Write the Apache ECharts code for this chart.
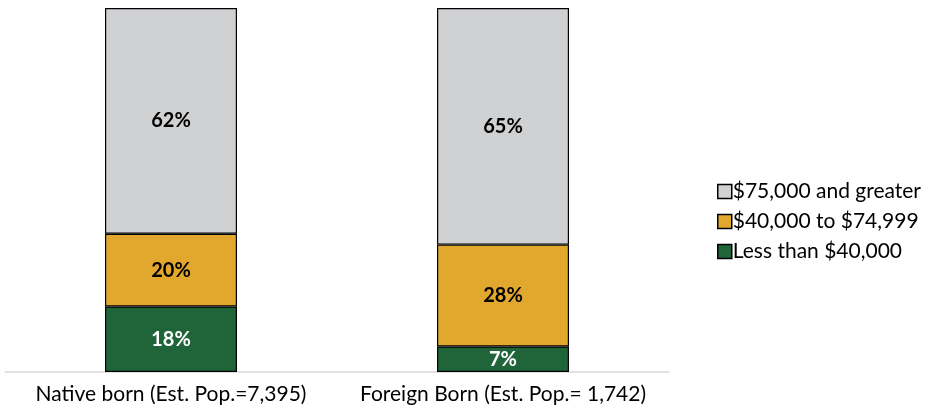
<!DOCTYPE html>
<html>
<head>
<meta charset="utf-8">
<script src="https://cdn.jsdelivr.net/npm/echarts@6/dist/echarts.min.js"></script>
<style>
  html, body { margin: 0; padding: 0; background: #fff; }
  #chart { width: 930px; height: 414px; }
</style>
</head>
<body>
<div id="chart"></div>
<script>
// categories and values (percent of each group)
const categories = ['Native born (Est. Pop.=7,395)', 'Foreign Born (Est. Pop.= 1,742)'];
const seriesNames = ['Less than $40,000', '$40,000 to $74,999', '$75,000 and greater'];
const lessThan40k = [18, 7];
const from40kTo75k = [20, 28];
const over75k = [62, 65];

const colors = ['#20643a', '#e2a82e', '#d0d1d3'];
const labelColors = ['#ffffff', '#000000', '#000000'];
const values = [lessThan40k, from40kTo75k, over75k];

const font = 'Lato, "Noto Sans", sans-serif';

const chart = echarts.init(document.getElementById('chart'));

const series = seriesNames.map((name, i) => ({
  name: name,
  type: 'bar',
  stack: 'total',
  barWidth: 132,
  data: values[i],
  itemStyle: {
    color: colors[i],
    borderColor: '#000',
    borderWidth: 1.2
  },
  label: {
    show: true,
    position: 'inside',
    formatter: '{c}%',
    color: labelColors[i],
    fontWeight: 'bold',
    fontSize: 20,
    fontFamily: font
  }
}));

const option = {
  animation: false,
  grid: {
    left: 5,
    right: 261,
    top: 8,
    bottom: 42
  },
  legend: {
    orient: 'vertical',
    left: 712,
    top: 176,
    icon: 'rect',
    itemWidth: 14,
    itemHeight: 14,
    itemGap: 9,
    data: ['$75,000 and greater', '$40,000 to $74,999', 'Less than $40,000'],
    textStyle: {
      fontSize: 21,
      fontFamily: font,
      color: '#000',
      padding: [0, 0, 0, -4]
    },
    itemStyle: {
      borderColor: '#000',
      borderWidth: 1.5
    }
  },
  xAxis: {
    type: 'category',
    data: categories,
    axisTick: { show: false },
    axisLine: { lineStyle: { color: '#d9d9d9', width: 1.5 } },
    axisLabel: {
      interval: 0,
      hideOverlap: false,
      margin: 12,
      fontSize: 21,
      fontFamily: font,
      color: '#000'
    }
  },
  yAxis: {
    type: 'value',
    min: 0,
    max: 100,
    show: false
  },
  series: series
};

chart.setOption(option);
</script>
</body>
</html>
